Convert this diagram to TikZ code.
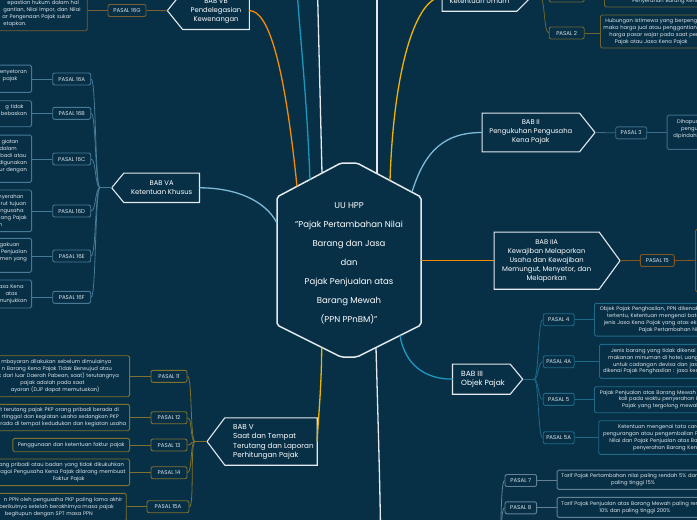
\documentclass[tikz,border=0pt]{standalone}
\usepackage{fontspec}
\setmainfont{Poppins}
\usetikzlibrary{calc}
\definecolor{bg}{RGB}{7,48,71}
\definecolor{wline}{RGB}{228,233,237}
\definecolor{txt}{RGB}{222,229,234}
\definecolor{corange}{RGB}{245,140,0}
\definecolor{cgold}{RGB}{240,180,0}
\definecolor{clblue}{RGB}{125,185,215}
\definecolor{cteal}{RGB}{28,152,190}
\definecolor{bVA}{RGB}{72,122,150}
\definecolor{bV}{RGB}{128,114,44}
\definecolor{bVB}{RGB}{120,94,48}
\definecolor{bII}{RGB}{60,108,138}
\definecolor{bIIA}{RGB}{130,86,32}
\definecolor{bIII}{RGB}{30,106,136}
\definecolor{bIV}{RGB}{100,130,148}
\definecolor{bI}{RGB}{110,100,46}
\newcommand\rpad[1]{\hspace{#1pt}\mbox{}}
\newcommand\lpad[1]{\mbox{}\hspace*{#1pt}}
\begin{document}
\begin{tikzpicture}[x=1pt,y=-1pt,
  babbox/.style={inner sep=0pt, text=white, font=\fontsize{6.8}{9}\selectfont, align=center},
  babline/.style={draw=wline, line width=1.1pt, line join=miter},
  hexline/.style={draw=wline, line width=1.5pt, rounded corners=2pt},
  pasal/.style={draw=#1, fill=bg, rounded corners=2pt, line width=0.9pt, text=txt, font=\fontsize{5.5}{6}\selectfont, minimum height=12pt, inner sep=0pt},
  desc/.style={draw=#1, rounded corners=1.5pt, line width=0.9pt, text=txt, font=\fontsize{5.2}{6.9}\selectfont, inner xsep=3pt, inner ysep=0pt},
  dl/.style={align=right, anchor=east, text width=#1},
  dr/.style={align=left, anchor=west, text width=200pt},
  br/.style={draw=#1, line width=0.8pt},
  mc/.style={draw=#1, line width=1.3pt},
]
\useasboundingbox (0,0) rectangle (697,520);
\clip (0,0) rectangle (697,520);
\fill[bg] (0,0) rectangle (697,520);

% ---------- central hexagon ----------
\draw[hexline] (277,197) -- (341,163) -- (357,163) -- (421,197) -- (421,325) -- (357,357) -- (341,357) -- (277,325) -- cycle;
\node[text=white, font=\fontsize{8.5}{19}\selectfont, align=center, inner sep=0pt] (center) at (349,263)
  {UU HPP\\"Pajak Pertambahan Nilai\\Barang dan Jasa\\dan\\Pajak Penjualan atas\\Barang Mewah\\ (PPN PPnBM)"};
\coordinate (hVB) at (297,186.4);
\coordinate (hTT) at (310,179.5);
\coordinate (hW1) at (322,173);
\coordinate (hW2) at (377,173.6);
\coordinate (hGT) at (390,180.5);
\coordinate (hLB) at (412,192);
\coordinate (hOR) at (421,260.65);
\coordinate (hTB) at (400,335.5);
\coordinate (hWB) at (376,347.5);
\coordinate (hGB) at (321.7,347.3);
\coordinate (hVA) at (277,223);
\coordinate (offT1) at (296,-30);
\coordinate (offW1) at (317,-30);
\coordinate (offW2) at (377,-30);
\coordinate (offB) at (381,560);

% ---------- BAB nodes ----------
\node[babbox, minimum width=66.3pt, minimum height=37.3pt] (bvb) at (216,10.65) {BAB VB\\Pendelegasian\\Kewenangan};
\coordinate (bvbtip) at (167.3,10.65);
\draw[babline] (bvb.north east) -- (bvb.north west) -- (bvbtip) -- (bvb.south west) -- (bvb.south east) -- cycle;

\node[babbox, minimum width=75.3pt, minimum height=29pt] (bva) at (161.65,187.8) {BAB VA\\Ketentuan Khusus};
\coordinate (bvatip) at (111.7,187.8);
\draw[babline] (bva.north east) -- (bva.north west) -- (bvatip) -- (bva.south west) -- (bva.south east) -- cycle;

\node[babbox, minimum width=92pt, minimum height=47pt] (bv) at (271,441.5) {};
\node[babbox, align=left, anchor=west, font=\fontsize{7.2}{9.5}\selectfont] (bvt) at (233,442) {BAB V\\Saat dan Tempat\\Terutang dan Laporan\\Perhitungan Pajak};
\coordinate (bvtip) at (207,441.5);
\draw[babline] (bv.north east) -- (bv.north west) -- (bvtip) -- (bv.south west) -- (bv.south east) -- cycle;

\node[babbox, minimum width=74.4pt, minimum height=28pt] (b1) at (479.5,-3) {BAB I\\Ketentuan Umum};
\coordinate (b1tip) at (531,-3);
\draw[babline] (b1.north west) -- (b1.north east) -- (b1tip) -- (b1.south east) -- (b1.south west) -- cycle;

\node[babbox, minimum width=97pt, minimum height=38.4pt] (b2) at (530.8,132.5) {BAB II\\Pengukuhan Pengusaha\\Kena Pajak};
\coordinate (b2tip) at (595,132.5);
\draw[babline] (b2.north west) -- (b2.north east) -- (b2tip) -- (b2.south east) -- (b2.south west) -- cycle;

\node[babbox, minimum width=104.7pt, minimum height=56.7pt] (b2a) at (546.65,260.65) {BAB IIA\\Kewajiban Melaporkan\\Usaha dan Kewajiban\\Memungut, Menyetor, dan\\Melaporkan};
\coordinate (b2atip) at (620,260.65);
\draw[babline] (b2a.north west) -- (b2a.north east) -- (b2atip) -- (b2a.south east) -- (b2a.south west) -- cycle;

\node[babbox, minimum width=57.3pt, minimum height=29.7pt] (b3) at (481.35,379.15) {};
\node[babbox, align=left, anchor=west, font=\fontsize{7.5}{9}\selectfont] (b3t) at (461,379.15) {BAB III\\Objek Pajak};
\coordinate (b3tip) at (522.7,379.15);
\draw[babline] (b3.north west) -- (b3.north east) -- (b3tip) -- (b3.south east) -- (b3.south west) -- cycle;

% ---------- main connectors ----------
\draw[mc=corange] (bvb.east) .. controls (268,10.65) and (284,60) .. (hVB);
\draw[mc=cteal] (hTT) .. controls (306,80) and (298,20) .. (offT1);
\draw[mc=wline] (hW1) -- (offW1);
\draw[mc=wline] (hW2) -- (offW2);
\draw[mc=cgold] (hGT) .. controls (394,60) and (418,-3) .. (b1.west);
\draw[mc=clblue] (hLB) .. controls (425,150) and (445,132.5) .. (b2.west);
\draw[mc=corange] (hOR) -- (b2a.west);
\draw[mc=cteal] (hTB) .. controls (405,365) and (425,379.15) .. (b3.west);
\draw[mc=wline] (hWB) .. controls (378,420) and (380,480) .. (offB);
\draw[mc=cgold] (hGB) .. controls (321.5,390) and (318,420) .. (bv.east);
\draw[mc=clblue] (bva.east) .. controls (235,187.8) and (265,200) .. (hVA);

% ---------- BAB VB branch ----------
\node[pasal=bVB, minimum width=38pt] (p16g) at (127,10.5) {PASAL 16G};
\node[desc=bVB, dl=150pt, minimum height=34pt] (d16g) at (87.7,13.7)
  {epastian hukum dalam hal\rpad{5.4}\\gantian, Nilai Impor, dan Nilai\rpad{3.7}\\ar Pengenaan Pajak sukar\rpad{13}\\etapkan.\rpad{58}};
\draw[br=bVB] (bvbtip) -- (p16g.east);
\draw[br=bVB] (p16g.west) -- (p16g.west -| d16g.east);

% ---------- BAB VA branch ----------
\coordinate (jva) at (100,187.8);
\node[pasal=bVA, minimum width=38pt] (p16a) at (71.7,79) {PASAL 16A};
\node[pasal=bVA, minimum width=38pt] (p16b) at (71.7,113.3) {PASAL 16B};
\node[pasal=bVA, minimum width=38pt] (p16c) at (71.7,159) {PASAL 16C};
\node[pasal=bVA, minimum width=38pt] (p16d) at (71.7,211) {PASAL 16D};
\node[pasal=bVA, minimum width=38pt] (p16e) at (71.7,256) {PASAL 16E};
\node[pasal=bVA, minimum width=38pt] (p16f) at (71.7,297.3) {PASAL 16F};
\node[desc=bVA, dl=100pt, minimum height=27.3pt] (d16a) at (32,78.7) {enyetoran\rpad{1.7}\\pajak\rpad{11.3}\\\mbox{}};
\node[desc=bVA, dl=100pt, minimum height=26pt] (d16b) at (32,113.7) {g tidak\rpad{5}\\bebaskan\rpad{1.7}\\\mbox{}};
\node[desc=bVA, dl=100pt, minimum height=47.3pt] (d16c) at (32,158.7) {giatan\rpad{10}\\dalam\rpad{11.7}\\badi atau\rpad{2.3}\\digunakan\rpad{1.7}\\ur dengan\rpad{1.7}\\\mbox{}};
\node[desc=bVA, dl=100pt, minimum height=41.7pt] (d16d) at (32,210.8) {nyerahan\rpad{5}\\rut tujuan\rpad{2.3}\\ngusaha\rpad{5}\\ang Pajak\rpad{1.7}\\n\rpad{26.3}};
\node[desc=bVA, dl=100pt, minimum height=34pt] (d16e) at (32,255.3) {gakuan\rpad{9}\\Penjualan\rpad{1.7}\\men yang\rpad{1.7}\\\mbox{}};
\node[desc=bVA, dl=100pt, minimum height=28pt] (d16f) at (32,294) {asa Kena\rpad{5}\\atas\rpad{11.3}\\nunjukkan\rpad{1.7}};
\draw[br=bVA] (bvatip) -- (jva);
\foreach \p in {p16a,p16b,p16c,p16d,p16e,p16f}{
  \draw[br=bVA] (jva) .. controls +(-5,0) and +(5,0) .. (\p.east);
}
\draw[br=bVA] (p16a.west) -- (p16a.west -| d16a.east);
\draw[br=bVA] (p16b.west) -- (p16b.west -| d16b.east);
\draw[br=bVA] (p16c.west) -- (p16c.west -| d16c.east);
\draw[br=bVA] (p16d.west) -- (p16d.west -| d16d.east);
\draw[br=bVA] (p16e.west) -- (p16e.west -| d16e.east);
\draw[br=bVA] (p16f.west) -- (p16f.west -| d16f.east);

% ---------- BAB V branch ----------
\coordinate (jv) at (195,441.5);
\node[pasal=bV, minimum width=36pt] (p11) at (169,376.3) {PASAL 11};
\node[pasal=bV, minimum width=36pt] (p12) at (169,417.7) {PASAL 12};
\node[pasal=bV, minimum width=36pt] (p13) at (169,445) {PASAL 13};
\node[pasal=bV, minimum width=36pt] (p14) at (169,472.7) {PASAL 14};
\node[pasal=bV, minimum width=42pt] (p15a) at (168,506.7) {PASAL 15A};
\node[desc=bV, dl=200pt, minimum height=41pt] (d11) at (130,376.2)
  {mbayaran dilakukan sebelum dimulainya\rpad{15.3}\\n Barang Kena Pajak Tidak Berwujud atau\rpad{14.7}\\k dari luar Daerah Pabean, saat) terutangnya\rpad{7.7}\\pajak adalah pada saat\rpad{42}\\ayaran (DJP dapat memutuskan)\rpad{27}};
\node[desc=bV, dl=200pt, minimum height=26.4pt] (d12) at (130,417.5)
  {t terutang pajak PKP orang pribadi berada di\rpad{7.7}\\rtinggal dan kegiatan usaha sedangkan PKP\rpad{7.7}\\erada di tempat kedudukan dan kegiatan usaha\rpad{0.3}};
\node[desc=bV, anchor=east, align=center, text width=110.7pt, minimum height=13.4pt] (d13) at (130,445)
  {Penggunaan dan ketentuan faktur pajak};
\node[desc=bV, dl=200pt, minimum height=26.7pt] (d14) at (130,472.3)
  {ang pribadi atau badan yang tidak dikukuhkan\rpad{2.7}\\agai Pengusaha Kena Pajak dilarang membuat\rpad{1}\\Faktur Pajak\rpad{42}};
\node[desc=bV, dl=200pt, minimum height=27.7pt] (d15a) at (126.7,507.2)
  {n PPN oleh pengusaha PKP paling lama akhir\rpad{1}\\berikutnya setelah berakhirnya masa pajak\rpad{9.4}\\begitupun dengan SPT masa PPN\rpad{30.4}};
\draw[br=bV] (bvtip) -- (jv);
\foreach \p in {p11,p12,p13,p14,p15a}{
  \draw[br=bV] (jv) .. controls +(-5,0) and +(5,0) .. (\p.east);
}
\draw[br=bV] (p11.west) -- (p11.west -| d11.east);
\draw[br=bV] (p12.west) -- (p12.west -| d12.east);
\draw[br=bV] (p13.west) -- (p13.west -| d13.east);
\draw[br=bV] (p14.west) -- (p14.west -| d14.east);
\draw[br=bV] (p15a.west) -- (p15a.west -| d15a.east);

% ---------- BAB I branch ----------
\coordinate (j1) at (540,-3);
\node[pasal=bI, minimum width=35pt] (p1) at (566.7,-4) {PASAL 1};
\node[pasal=bI, minimum width=35pt] (p2) at (566.7,33) {PASAL 2};
\node[desc=bI, dr, minimum height=12pt] (d1) at (604,1) {\lpad{25}Penyerahan Barang Kena Pajak};
\node[desc=bI, dr, minimum height=33pt] (d2) at (600,31.5)
  {\lpad{2}Hubungan istimewa yang berpengaruh\\maka harga jual atau penggantian\\\lpad{6}harga pasar wajar pada saat penyerahan\\\lpad{11.3}Pajak atau Jasa Kena Pajak};
\draw[br=bI] (b1tip) -- (j1);
\draw[br=bI] (j1) .. controls +(5,0) and +(-5,0) .. (p1.west);
\draw[br=bI] (j1) .. controls +(5,0) and +(-5,0) .. (p2.west);
\draw[br=bI] (p2.east) -- (p2.east -| d2.west);

% ---------- BAB II branch ----------
\node[pasal=bII, minimum width=31pt] (p3) at (631.2,132.8) {PASAL 3};
\node[desc=bII, dr, minimum height=34.3pt] (d3) at (666.7,132.2)
  {\lpad{7}Dihapus\\\lpad{11}pengukuhan\\\lpad{3.3}dipindahkan\\\mbox{}};
\draw[br=bII] (b2tip) -- (p3.west);
\draw[br=bII] (p3.east) -- (p3.east -| d3.west);

% ---------- BAB IIA branch ----------
\node[pasal=bIIA, minimum width=34pt] (p15) at (657.3,260.5) {PASAL 15};
\node[desc=bIIA, anchor=west, minimum width=60pt, minimum height=62.4pt] (d15) at (695,260.5) {};
\draw[br=bIIA] (b2atip) -- (p15.west);
\draw[br=bIIA] (p15.east) -- (p15.east -| d15.west);

% ---------- BAB III branch ----------
\coordinate (j3) at (534,379.15);
\node[pasal=bIII, minimum width=31pt] (p4) at (558.7,319.7) {PASAL 4};
\node[pasal=bIII, minimum width=31pt] (p4a) at (558.7,361.7) {PASAL 4A};
\node[pasal=bIII, minimum width=31pt] (p5) at (558.7,399.3) {PASAL 5};
\node[pasal=bIII, minimum width=31pt] (p5a) at (558.7,437.7) {PASAL 5A};
\node[desc=bIII, dr, minimum height=32.7pt] (d4) at (594,319.7)
  {\lpad{2.3}Objek Pajak Penghasilan, PPN dikenakan\\\lpad{9.7}tertentu, Ketentuan mengenai batasan\\\lpad{6.3}jenis Jasa Kena Pajak yang atas ekspor\\\lpad{41.3}Pajak Pertambahan Nilai};
\node[desc=bIII, dr, minimum height=34pt] (d4a) at (599,361.3)
  {\lpad{8.7}Jenis barang yang tidak dikenai\\\lpad{5.7}makanan minuman di hotel, uang\\\lpad{10.7}untuk cadangan devisa dan jasa\\\lpad{0.7}dikenai Pajak Penghasilan : jasa kesenian};
\node[desc=bIII, dr, minimum height=26pt] (d5) at (594,399.7)
  {\lpad{2.3}Pajak Penjualan atas Barang Mewah\\\lpad{21.3}kali pada waktu penyerahan Barang\\\lpad{24.7}Pajak yang tergolong mewah};
\node[desc=bIII, dr, minimum height=33.6pt] (d5a) at (598.3,437.5)
  {\lpad{16.4}Ketentuan mengenai tata cara\\\lpad{1.4}pengurangan atau pengembalian Pajak\\\lpad{7.7}Nilai dan Pajak Penjualan atas Barang\\\lpad{31.4}penyerahan Barang Kena Pajak};
\draw[br=bIII] (b3tip) -- (j3);
\foreach \p in {p4,p4a,p5,p5a}{
  \draw[br=bIII] (j3) .. controls +(5,0) and +(-5,0) .. (\p.west);
}
\draw[br=bIII] (p4.east) -- (p4.east -| d4.west);
\draw[br=bIII] (p4a.east) -- (p4a.east -| d4a.west);
\draw[br=bIII] (p5.east) -- (p5.east -| d5.west);
\draw[br=bIII] (p5a.east) -- (p5a.east -| d5a.west);

% ---------- BAB IV branch (parent below the page) ----------
\coordinate (j4) at (497,570);
\node[pasal=bIV, minimum width=31.7pt] (p7) at (520.8,480.5) {PASAL 7};
\node[pasal=bIV, minimum width=31.7pt] (p8) at (520.8,507.8) {PASAL 8};
\node[desc=bIV, dr, minimum height=19.3pt] (d7) at (556.7,479.7)
  {\lpad{1.3}Tarif Pajak Pertambahan nilai paling rendah 5\% dan\\\lpad{51}paling tinggi 15\%};
\node[desc=bIV, dr, minimum height=20pt] (d8) at (556.7,507.3)
  {\lpad{1.3}Tarif Pajak Penjualan atas Barang Mewah paling rendah\\\lpad{39.3}10\% dan paling tinggi 200\%};
\draw[br=bIV] (j4) .. controls +(5,0) and +(-5,0) .. (p7.west);
\draw[br=bIV] (j4) .. controls +(5,0) and +(-5,0) .. (p8.west);
\draw[br=bIV] (p7.east) -- (p7.east -| d7.west);
\draw[br=bIV] (p8.east) -- (p8.east -| d8.west);
\end{tikzpicture}
\end{document}
